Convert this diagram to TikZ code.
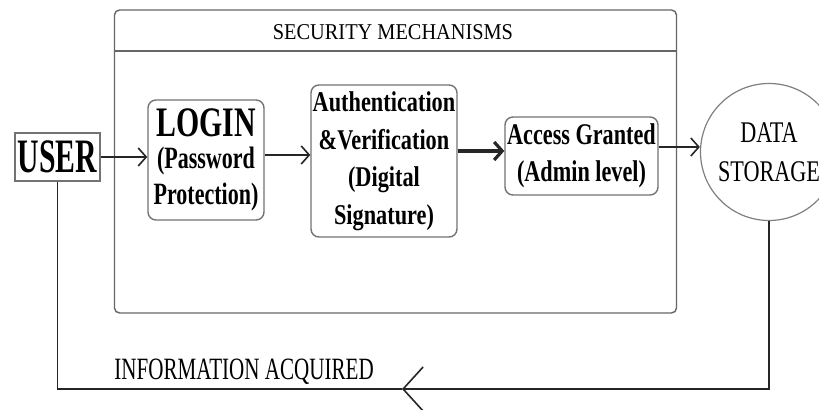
\documentclass[tikz,border=0pt]{standalone}
\usepackage{fontspec}
\setmainfont{Liberation Serif}
\newfontfamily\userF{Liberation Serif}[FakeStretch=0.62]
\newfontfamily\loginF{Liberation Serif}[FakeStretch=0.71]
\newfontfamily\authF{Liberation Serif}[FakeStretch=0.78]
\newfontfamily\accF{Liberation Serif}[FakeStretch=0.74]
\newfontfamily\dataF{Liberation Serif}[FakeStretch=0.74]
\newfontfamily\titleF{Liberation Serif}[FakeStretch=0.9]
\newfontfamily\infoF{Liberation Serif}[FakeStretch=0.68]
\usetikzlibrary{arrows.meta}
\begin{document}
\begin{tikzpicture}[x=0.5pt,y=-0.5pt,
  box/.style={draw=black!55, line width=0.7pt, rounded corners=4pt, inner sep=0pt, align=center},
  frame/.style={draw=black!60, line width=0.7pt, rounded corners=2.5pt, inner sep=0pt},
  conn/.style={draw=black!85, line width=0.8pt},
  tip/.style={-{Straight Barb[length=4pt,width=9pt]}},
  bigtip/.style={-{Straight Barb[length=10pt,width=22pt]}}]
\useasboundingbox (0,0) rectangle (819,410);
\fill[white] (0,0) rectangle (819,410);

% container
\node[frame, minimum width=281pt, minimum height=151.5pt] (sec) at (395.5,161.5) {};
\draw[draw=black!60, line width=0.7pt] (sec.west |- 0,51) -- (sec.east |- 0,51);
\node[inner sep=0pt, anchor=base, font=\titleF\fontsize{11.3}{12}\selectfont] (title) at (393,40)
  {SECURITY MECHANISMS};

% nodes
\node[draw=black!55, line width=0.7pt, inner sep=0pt, minimum width=42.5pt, minimum height=24pt,
  font=\userF\bfseries\fontsize{24}{24}\selectfont] (user) at (57.5,157) {USER};
\node[box, minimum width=58pt, minimum height=60pt,
  font=\loginF\bfseries\fontsize{15.5}{16}\selectfont] (login) at (206,160)
  {{\fontsize{21}{21}\selectfont LOGIN}\\(Password\\[2pt]Protection)};
\node[box, minimum width=73pt, minimum height=76pt,
  font=\authF\bfseries\fontsize{14.3}{18.75}\selectfont] (auth) at (384,161)
  {Authentication\\\&Verification\\(Digital\\Signature)};
\node[box, minimum width=76.5pt, minimum height=39pt,
  font=\accF\bfseries\fontsize{15}{18.5}\selectfont] (access) at (581.5,156)
  {Access Granted\\(Admin level)};
\node[draw=black!50, line width=0.6pt, circle, inner sep=0pt, minimum size=68.5pt, align=center,
  font=\dataF\fontsize{15}{19.5}\selectfont] (data) at (769,152)
  {DATA\\STORAGE};

% connectors
\draw[conn, tip] (user.east) -- (user.east -| login.west);
\draw[conn, tip] (login.east |- 0,155) -- (auth.west |- 0,155);
\draw[conn, tip, line width=1.6pt] (auth.east |- 0,151) -- (access.west |- 0,151);
\draw[conn, tip] (access.east |- 0,147) -- (data.west |- 0,147);

\coordinate (bendR) at (data.south |- 0,389);
\coordinate (mid) at (402,389);
\coordinate (bendL) at (user.south |- 0,389);
\draw[conn, bigtip] (data.south) -- (bendR) -- (mid);
\draw[conn] (mid) -- (bendL) -- (user.south);

\node[inner sep=0pt, anchor=base west, font=\infoF\fontsize{15.5}{16}\selectfont] (info) at (114,380)
  {INFORMATION ACQUIRED};
\end{tikzpicture}
\end{document}
